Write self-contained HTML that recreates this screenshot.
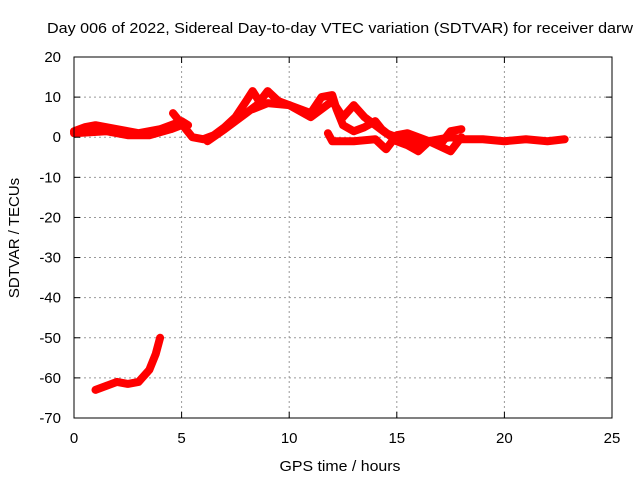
<!DOCTYPE html>
<html><head><meta charset="utf-8"><style>
body{margin:0;background:#fff;}
svg{display:block;font-family:"Liberation Sans",sans-serif;}
</style></head><body>
<svg id="c" width="640" height="480">
<text x="47" y="33" font-size="15" textLength="586" lengthAdjust="spacingAndGlyphs">Day 006 of 2022, Sidereal Day-to-day VTEC variation (SDTVAR) for receiver darw</text>
<text x="340" y="471" font-size="15" textLength="121" lengthAdjust="spacingAndGlyphs" text-anchor="middle">GPS time / hours</text>
<text transform="translate(19,238) rotate(-90)" font-size="15" text-anchor="middle">SDTVAR / TECUs</text>
<g id="grid"></g><g id="data"></g><g id="axes"></g>
</svg>
<script>
const xTicks=[0,5,10,15,20,25];
const yTicks=[20,10,0,-10,-20,-30,-40,-50,-60,-70];
const traceA=[[0,1.5],[0.5,2.5],[1,3],[1.5,2.5],[2,2],[2.5,1.5],[3,1],[3.5,1.5],[4,2],[4.5,3],[5,4],[5.3,3]];
const traceB=[[0,1],[1.5,1.5],[2.5,0.5],[3.5,0.5],[4.5,2],[5,3]];
const traceC=[[4.6,6],[5.2,2],[5.5,0],[6,-0.5],[6.5,0.5],[7,2.5],[7.5,5],[8,9],[8.3,11.5],[8.6,9]];
const traceD=[[6.2,-1],[7,2],[7.5,4],[8,6],[8.5,8],[9,11.5],[9.5,9],[10,8],[10.5,6.5],[11,5],[11.5,7],[12,9],[12.5,5],[13,8],[13.5,5],[14,3],[14.5,1],[15,0],[15.5,-1],[16,-2],[16.5,-1],[17,-0.5],[17.5,0],[18,-0.5],[19,-0.5],[20,-1],[21,-0.5],[22,-1],[22.8,-0.5]];
const traceE=[[8.3,7],[9,8.5],[10,8],[11,6],[11.5,10],[12,10.5],[12.2,7],[12.5,3],[13,1.5],[13.5,2.5],[14,4],[14.3,2],[15,-1],[15.5,-2],[16,-3.5],[16.5,-1],[17,-2],[17.5,1.5],[18,2]];
const traceF=[[11.8,1],[12,-1],[13,-1],[14,-0.5],[14.5,-3],[15,0.5],[15.5,1],[16.5,-1],[17.5,-3.5],[18,0]];
const traceG=[[1,-63],[1.5,-62],[2,-61],[2.5,-61.5],[3,-61],[3.5,-58],[3.8,-54],[4,-50]];
const traces=[traceA,traceB,traceC,traceD,traceE,traceF,traceG];
const X0=74,X1=612,Y0=418,Y1=57;
const sx=v=>X0+(v-0)/(25-0)*(X1-X0);
const sy=v=>Y0-(v+70)/(90)*(Y0-Y1);
const NS="http://www.w3.org/2000/svg";
function mk(t,a,p){const e=document.createElementNS(NS,t);for(const k in a)e.setAttribute(k,a[k]);p.appendChild(e);return e;}
const g=document.getElementById('grid'),ax=document.getElementById('axes'),d=document.getElementById('data');
xTicks.forEach(v=>{const x=sx(v);
 if(v>0&&v<25){const l=mk('line',{x1:x,x2:x,y1:Y0,y2:Y1,stroke:'#999','stroke-dasharray':'2,3'},g);
 }
 mk('line',{x1:x,x2:x,y1:Y0,y2:Y0-6,stroke:'#000'},ax);mk('line',{x1:x,x2:x,y1:Y1,y2:Y1+6,stroke:'#000'},ax);
 const t=mk('text',{x:x,y:443,'font-size':15,'text-anchor':'middle'},ax);t.textContent=v;
 });
yTicks.forEach(v=>{const y=sy(v);
 if(v>-70&&v<20){const l=mk('line',{x1:X0,x2:X1,y1:y,y2:y,stroke:'#999','stroke-dasharray':'2,3'},g);
 }
 mk('line',{x1:X0,x2:X0+6,y1:y,y2:y,stroke:'#000'},ax);mk('line',{x1:X1,x2:X1-6,y1:y,y2:y,stroke:'#000'},ax);
 const t=mk('text',{x:61,y:y+5,'font-size':15,'text-anchor':'end'},ax);t.textContent=v;
 });
const b=mk('rect',{x:X0,y:Y1,width:X1-X0,height:Y0-Y1,fill:'none',stroke:'#000'},ax);

traces.forEach(tr=>{const p=mk('polyline',{points:tr.map(q=>sx(q[0])+','+sy(q[1])).join(' '),fill:'none',stroke:'#f00','stroke-width':8,'stroke-linejoin':'round','stroke-linecap':'round'},d);
 });
</script>
</body></html>
